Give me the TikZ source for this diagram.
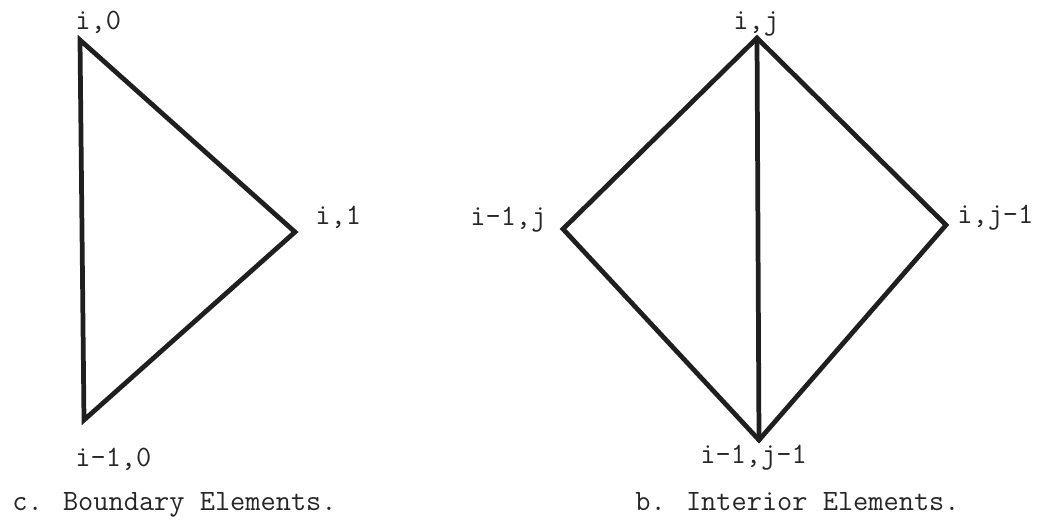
\documentclass[tikz,border=0pt]{standalone}
\usetikzlibrary{positioning}

\begin{document}
\begin{tikzpicture}[
  x=0.02cm, y=-0.02cm,
  edge/.style={line width=2.7pt, draw=black!88, line join=miter, line cap=round},
  lab/.style={font=\fontsize{16.8}{19}\selectfont\ttfamily, inner sep=0pt, anchor=base west, text=black!85}
]
\useasboundingbox (0,0) rectangle (1041,522);

% --- boundary element (left) ---
\coordinate (b0) at (80,40);
\coordinate (b1) at (295,232);
\coordinate (bm) at (84,420);

\node[lab] (lb0) at (75,29)  {i,0};
\node[lab] (lb1) at (315,224) {i,1};
\node[lab] (lbm) at (75,466) {i-1,0};
\node[lab] (capc) at (12,510) {c. Boundary Elements.};

% --- interior elements (right) ---
\coordinate (ij)   at (757,38);
\coordinate (imj)  at (563,229);
\coordinate (ijm)  at (946,225);
\coordinate (imjm) at (759,440);

\node[lab] (lij)   at (733,29)  {i,j};
\node[lab] (limj)  at (470,225) {i-1,j};
\node[lab] (lijm)  at (957,223) {i,j-1};
\node[lab] (limjm) at (700,463) {i-1,j-1};
\node[lab] (capb)  at (635,510) {b. Interior Elements.};

% --- edges ---
\draw[edge] (b0) -- (b1) -- (bm) -- cycle;
\draw[edge] (ij) -- (ijm) -- (imjm) -- (imj) -- cycle;
\draw[edge] (ij) -- (imjm);

\end{tikzpicture}
\end{document}
